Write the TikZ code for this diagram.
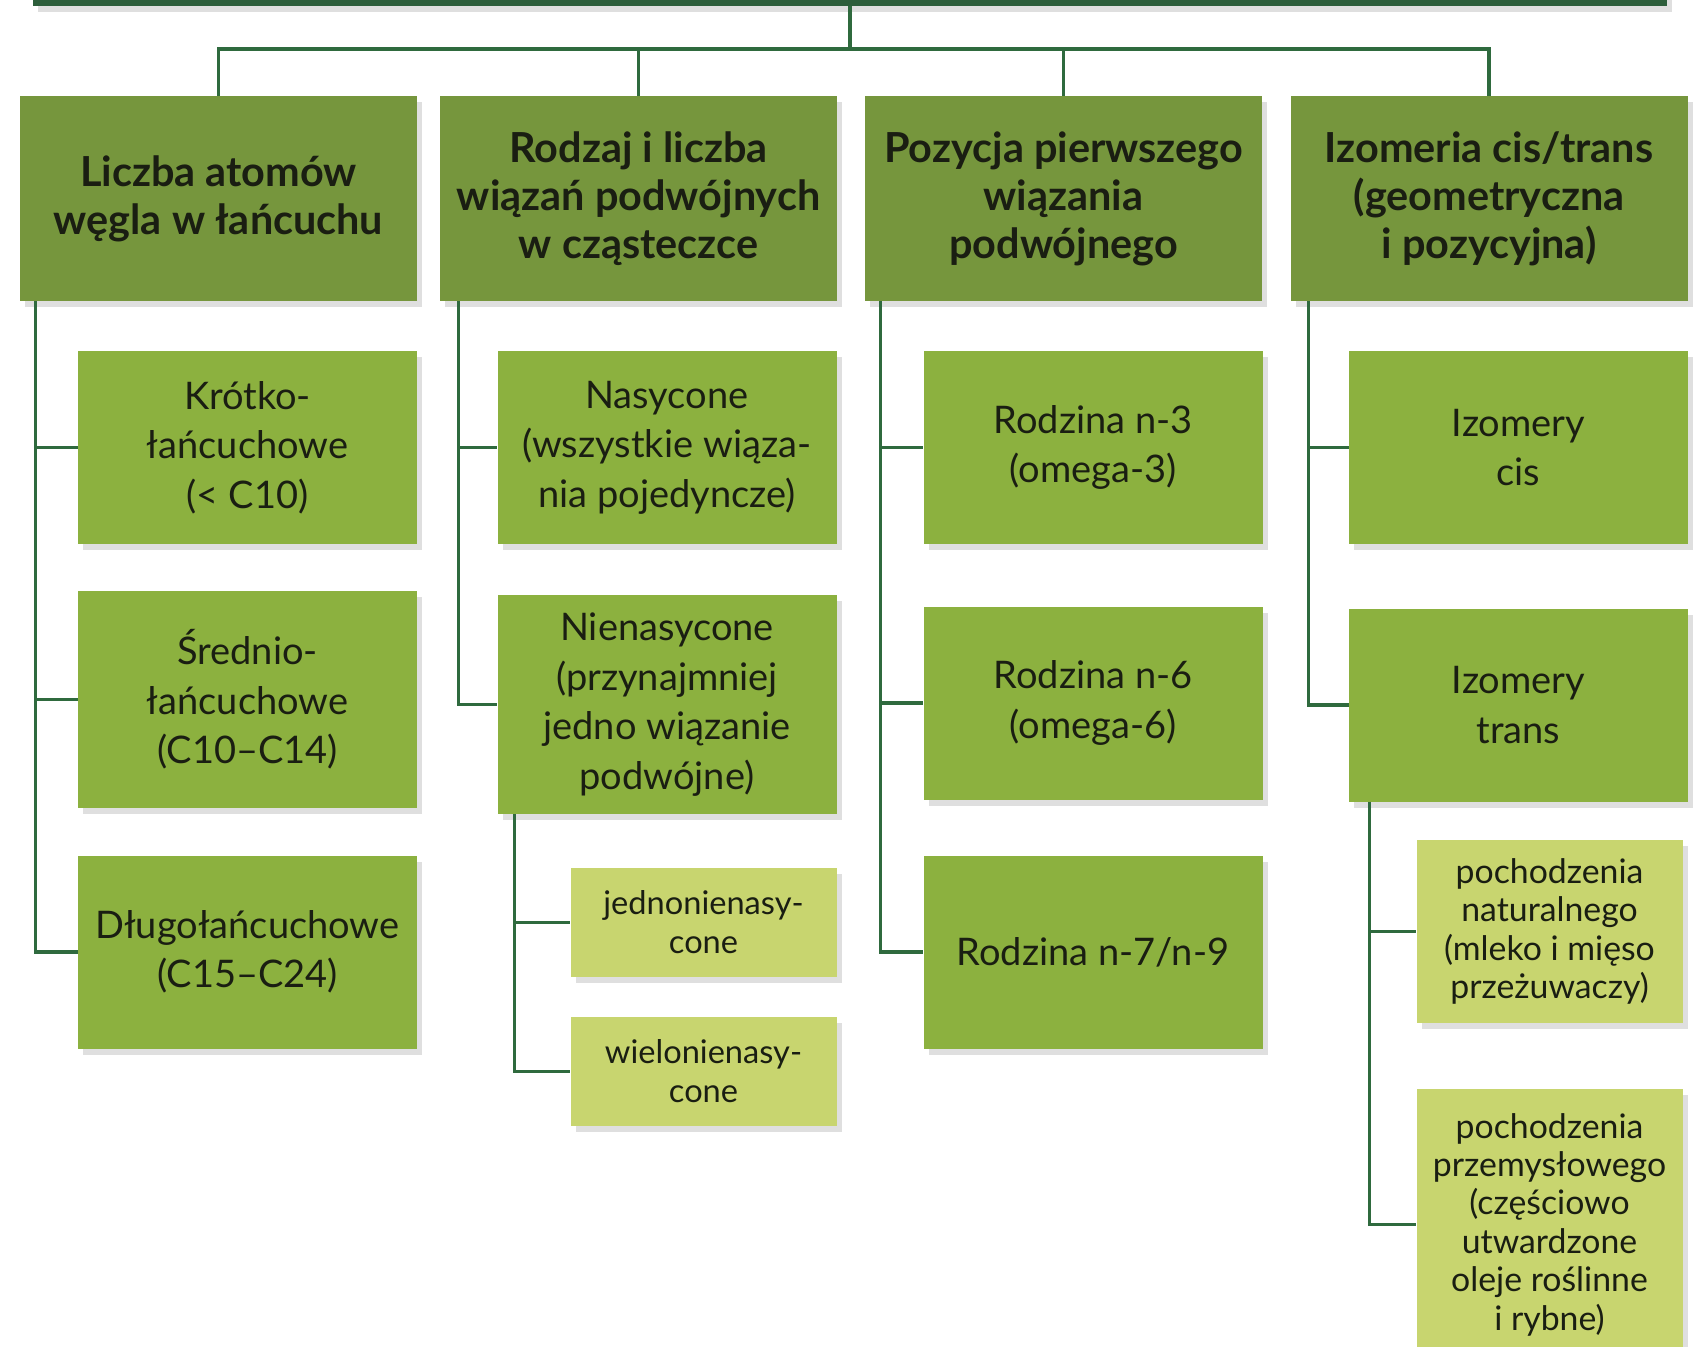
\documentclass[tikz,border=0pt]{standalone}
\usepackage{fontspec}
\setmainfont{Lato}
\usetikzlibrary{shadows}

\definecolor{bargreen}{HTML}{2D5E3B}
\definecolor{linkgreen}{HTML}{2F6A3E}
\definecolor{topgreen}{HTML}{76963D}
\definecolor{kindgreen}{HTML}{8CB13F}
\definecolor{subgreen}{HTML}{C8D56F}
\definecolor{textdark}{HTML}{1A1E12}

\newcommand\hdfont{\fontsize{20.7}{24}\selectfont\bfseries}
\newcommand\chfont{\fontsize{19}{24.75}\selectfont}
\newcommand\gcfont{\fontsize{16.3}{19.5}\selectfont}
\newcommand\gcwidefont{\fontsize{16.9}{19.2}\selectfont}

\begin{document}
\begin{tikzpicture}[x=0.5pt,y=-0.5pt,
	link/.style={draw=linkgreen,line width=1.6pt},
	soft/.style={drop shadow={opacity=0.25,shadow xshift=2.5pt,shadow yshift=-3pt}},
	topbox/.style={fill=topgreen,minimum width=198.5pt,minimum height=102.5pt,align=center,font=\hdfont,text=textdark,soft},
	kindbox/.style={fill=kindgreen,minimum width=169.5pt,minimum height=96.5pt,align=center,font=\chfont,text=textdark,soft},
	subbox/.style={fill=subgreen,minimum width=133pt,minimum height=54.5pt,align=center,font=\gcfont,text=textdark,soft}]
	  \useasboundingbox (0,0) rectangle (1706,1346);
	  \clip (0,0) rectangle (1706,1346);
	  \fill[white] (0,0) rectangle (1706,1346);
	  % top bar and main groups
	  \node at (850,-17) (bar) [fill=bargreen,minimum width=817pt,minimum height=23pt,soft]{};
	  \coordinate (hub) at (850,49);
	  \node at (218.5,198.5) (liczba) [topbox]{Liczba atomów\\węgla w łańcuchu};
	  \node at (638.5,198.5) (rodzaj) [topbox]{Rodzaj i liczba\\wiązań podwójnych\\w cząsteczce};
	  \node at (1063.5,198.5) (pozycja) [topbox]{Pozycja pierwszego\\wiązania\\podwójnego};
	  \node at (1489,198.5) (izomeria) [topbox]{Izomeria cis/trans\\(geometryczna\\i pozycyjna)};
	  % chain length
	  \node at (247.5,447.5) (krotko) [kindbox]{Krótko-\\łańcuchowe\\(< C10)};
	  \node at (247.5,699.5) (srednio) [kindbox,minimum height=108.5pt]{Średnio-\\łańcuchowe\\(C10–C14)};
	  \node at (247.5,952) (dlugo) [kindbox]{Długołańcuchowe\\(C15–C24)};
	  % saturation
	  \node at (667,447.5) (nasycone) [kindbox]{Nasycone\\(wszystkie wiąza-\\nia pojedyncze)};
	  \node at (667,704.5) (nienasycone) [kindbox,minimum height=109.5pt]{Nienasycone\\(przynajmniej\\jedno wiązanie\\podwójne)};
	  \node at (703.5,922.5) (jedno) [subbox]{jednonienasy-\\cone};
	  \node at (703.5,1071.5) (wielo) [subbox]{wielonienasy-\\cone};
	  % first double bond
	  \node at (1093,447.5) (n3) [kindbox]{Rodzina n-3\\(omega-3)};
	  \node at (1093,703) (n6) [kindbox]{Rodzina n-6\\(omega-6)};
	  \node at (1093,952) (n79) [kindbox]{Rodzina n-7/n-9};
	  % cis/trans
	  \node at (1518.5,447.5) (cis) [kindbox]{Izomery\\cis};
	  \node at (1518.5,705) (trans) [kindbox]{Izomery\\trans};
	  \node at (1549.5,931.5) (natur) [subbox,font=\gcwidefont,minimum height=91.5pt]{pochodzenia\\naturalnego\\(mleko i mięso\\przeżuwaczy)};
	  \node at (1549.5,1224.5) (przem) [subbox,font=\gcwidefont,minimum height=135.5pt]{pochodzenia\\przemysłowego\\(częściowo\\utwardzone\\oleje roślinne\\i rybne)};
	  % connectors
	  \draw[link](bar.south) -- (hub);
	  \draw[link](liczba.north) |- (hub) -| (izomeria.north);
	  \draw[link](rodzaj.north) -- (rodzaj.north |- hub);
	  \draw[link](pozycja.north) -- (pozycja.north |- hub);
	  \draw[link](liczba.south west) ++(16,0) |- (krotko.west);
	  \draw[link](liczba.south west) ++(16,0) |- (srednio.west);
	  \draw[link](liczba.south west) ++(16,0) |- (dlugo.west);
	  \draw[link](rodzaj.south west) ++(19,0) |- (nasycone.west);
	  \draw[link](rodzaj.south west) ++(19,0) |- (nienasycone.west);
	  \draw[link](nienasycone.south west) ++(17,0) |- (jedno.west);
	  \draw[link](nienasycone.south west) ++(17,0) |- (wielo.west);
	  \draw[link](pozycja.south west) ++(16,0) |- (n3.west);
	  \draw[link](pozycja.south west) ++(16,0) |- (n6.west);
	  \draw[link](pozycja.south west) ++(16,0) |- (n79.west);
	  \draw[link](izomeria.south west) ++(18,0) |- (cis.west);
	  \draw[link](izomeria.south west) ++(18,0) |- (trans.west);
	  \draw[link](trans.south west) ++(21,0) |- (natur.west);
	  \draw[link](trans.south west) ++(21,0) |- (przem.west);
	\end{tikzpicture}
\end{document}
